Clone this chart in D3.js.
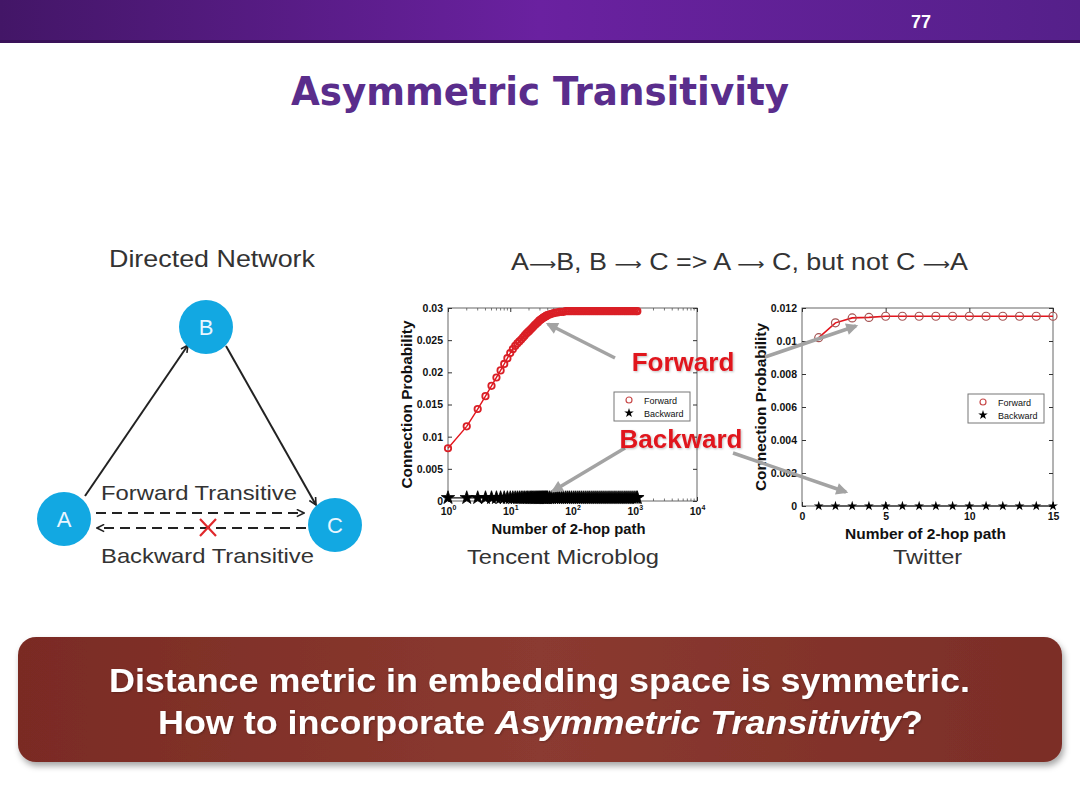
<!DOCTYPE html>
<html>
<head>
<meta charset="utf-8">
<style>
  body { margin: 0; background: #fff; }
  svg { display: block; }
</style>
</head>
<body>
<script src="https://cdn.jsdelivr.net/npm/d3@7"></script>
<script>
// ---- data ----
var tencentHops = [1, 2, 3, 4, 5, 6, 7, 8, 9, 10, 11, 12, 13, 14, 15, 16, 17, 18, 19, 20,
    21, 22, 23, 24, 25, 26, 27, 28, 29, 30, 31, 32, 33, 34, 35, 36, 37, 38, 39, 40,
    43, 46, 50, 54, 58, 62, 67, 72, 78, 84, 90, 97, 105, 113, 122, 131, 141, 152, 164, 177,
    190, 205, 221, 238, 256, 276, 297, 320, 345, 372, 400, 431, 465, 500, 540, 580, 625, 675, 725, 780,
    840, 905, 975, 1050, 1100];
var tencentForward = [0.0082, 0.0116, 0.0143, 0.0163, 0.0179, 0.0192, 0.0203, 0.0213, 0.0222, 0.0230,
    0.0236, 0.0241, 0.0245, 0.0248, 0.0251, 0.0254, 0.0257, 0.0260, 0.0262, 0.0264,
    0.0266, 0.0268, 0.0270, 0.0272, 0.0274, 0.0275, 0.0277, 0.0278, 0.0280, 0.0281,
    0.0282, 0.0283, 0.0284, 0.0285, 0.0286, 0.0286, 0.0287, 0.0288, 0.0288, 0.0289,
    0.0290, 0.0291, 0.0292, 0.0293, 0.0293, 0.0294, 0.0294, 0.0294, 0.0295, 0.0295,
    0.0295, 0.0295, 0.0295, 0.0295, 0.0295, 0.0295, 0.0295, 0.0295, 0.0295, 0.0295,
    0.0295, 0.0295, 0.0295, 0.0295, 0.0295, 0.0295, 0.0295, 0.0295, 0.0295, 0.0295,
    0.0295, 0.0295, 0.0295, 0.0295, 0.0295, 0.0295, 0.0295, 0.0295, 0.0295, 0.0295,
    0.0295, 0.0295, 0.0295, 0.0295, 0.0295];
var tencentBackward = [0.0005, 0.0005, 0.0005, 0.0005, 0.0005, 0.0005, 0.0005, 0.0005, 0.0005, 0.0005,
    0.0005, 0.0005, 0.0005, 0.0005, 0.0005, 0.0005, 0.0005, 0.0005, 0.0005, 0.0005,
    0.0005, 0.0005, 0.0005, 0.0005, 0.0005, 0.0005, 0.0005, 0.0005, 0.0005, 0.0005,
    0.0005, 0.0005, 0.0005, 0.0005, 0.0005, 0.0005, 0.0005, 0.0005, 0.0005, 0.0005,
    0.0005, 0.0005, 0.0005, 0.0005, 0.0005, 0.0005, 0.0005, 0.0005, 0.0005, 0.0005,
    0.0005, 0.0005, 0.0005, 0.0005, 0.0005, 0.0005, 0.0005, 0.0005, 0.0005, 0.0005,
    0.0005, 0.0005, 0.0005, 0.0005, 0.0005, 0.0005, 0.0005, 0.0005, 0.0005, 0.0005,
    0.0005, 0.0005, 0.0005, 0.0005, 0.0005, 0.0005, 0.0005, 0.0005, 0.0005, 0.0005,
    0.0005, 0.0005, 0.0005, 0.0005, 0.0005];
var tencentXTicks = [1, 10, 100, 1000, 10000];
var tencentYTicks = [0, 0.005, 0.01, 0.015, 0.02, 0.025, 0.03];

var twitterHops = [1, 2, 3, 4, 5, 6, 7, 8, 9, 10, 11, 12, 13, 14, 15];
var twitterForward = [0.0102, 0.0111, 0.0114, 0.01143, 0.0115, 0.0115, 0.0115, 0.0115,
    0.0115, 0.0115, 0.0115, 0.0115, 0.0115, 0.0115, 0.0115];
var twitterBackward = [0, 0, 0, 0, 0, 0, 0, 0, 0, 0, 0, 0, 0, 0, 0];
var twitterXTicks = [0, 5, 10, 15];
var twitterYTicks = [0, 0.002, 0.004, 0.006, 0.008, 0.01, 0.012];

var legendNames = ['Forward', 'Backward'];

var W = 1080, H = 810;
var tickFont = '"Liberation Sans", Arial, sans-serif';
var diagramFont = '"Liberation Sans", Arial, sans-serif';

var svg = d3.select('body').append('svg')
    .attr('width', W).attr('height', H);

var defs = svg.append('defs');

var topGrad = defs.append('linearGradient').attr('id', 'topGrad');
topGrad.append('stop').attr('offset', '0%').attr('stop-color', '#431667');
topGrad.append('stop').attr('offset', '50%').attr('stop-color', '#6a21a0');
topGrad.append('stop').attr('offset', '100%').attr('stop-color', '#55208a');

var banGrad = defs.append('linearGradient').attr('id', 'banGrad');
banGrad.append('stop').attr('offset', '0%').attr('stop-color', '#7a2b24');
banGrad.append('stop').attr('offset', '50%').attr('stop-color', '#8b3a30');
banGrad.append('stop').attr('offset', '100%').attr('stop-color', '#7b2d27');

var shadow = defs.append('filter').attr('id', 'shadow')
    .attr('x', '-5%').attr('y', '-10%').attr('width', '110%').attr('height', '130%');
shadow.append('feDropShadow').attr('dx', 2).attr('dy', 4).attr('stdDeviation', 3)
    .attr('flood-color', '#000').attr('flood-opacity', 0.35);

var txtShadow = defs.append('filter').attr('id', 'txtShadow');
txtShadow.append('feDropShadow').attr('dx', 1).attr('dy', 1).attr('stdDeviation', 1)
    .attr('flood-color', '#000').attr('flood-opacity', 0.25);

// arrow heads
defs.append('marker').attr('id', 'vhead')
    .attr('viewBox', '0 0 10 10').attr('refX', 9).attr('refY', 5)
    .attr('markerWidth', 9).attr('markerHeight', 9).attr('orient', 'auto')
    .attr('markerUnits', 'userSpaceOnUse')
    .append('path').attr('d', 'M1,1 L9,5 L1,9').attr('fill', 'none')
    .attr('stroke', '#222').attr('stroke-width', 1.8);

defs.append('marker').attr('id', 'greyhead')
    .attr('viewBox', '0 0 10 10').attr('refX', 8).attr('refY', 5)
    .attr('markerWidth', 14).attr('markerHeight', 12).attr('orient', 'auto')
    .attr('markerUnits', 'userSpaceOnUse')
    .append('path').attr('d', 'M0,0 L10,5 L0,10 Z').attr('fill', '#a3a3a3');

// plain slide text, stretched to the width it has on the slide
function slideText(parent, cx, y, size, width, str) {
    return parent.append('text').attr('x', cx).attr('y', y).attr('text-anchor', 'middle')
        .attr('font-family', diagramFont).attr('font-size', size).attr('fill', '#333')
        .attr('textLength', width).attr('lengthAdjust', 'spacingAndGlyphs')
        .text(str);
}

// ---- slide frame ----
svg.append('rect').attr('x', 0).attr('y', 0).attr('width', W).attr('height', 42)
    .attr('fill', 'url(#topGrad)');
svg.append('rect').attr('x', 0).attr('y', 40).attr('width', W).attr('height', 3)
    .attr('fill', '#3a1259');
svg.append('text').attr('x', 921).attr('y', 28).attr('text-anchor', 'middle')
    .attr('font-family', tickFont).attr('font-weight', 'bold').attr('font-size', 18)
    .attr('fill', '#fff').text('77');

svg.append('text').attr('x', 540).attr('y', 105).attr('text-anchor', 'middle')
    .attr('font-family', '"DejaVu Sans", Verdana, sans-serif').attr('font-weight', 'bold')
    .attr('font-size', 39).attr('fill', '#5a2d8c')
    .attr('textLength', 498).attr('lengthAdjust', 'spacingAndGlyphs')
    .text('Asymmetric Transitivity');

// ---- directed network diagram ----
slideText(svg, 212, 267, 24, 206, 'Directed Network');

var g = svg.append('g');
g.append('line').attr('x1', 85).attr('y1', 496).attr('x2', 188).attr('y2', 345)
    .attr('stroke', '#222').attr('stroke-width', 2).attr('marker-end', 'url(#vhead)');
g.append('line').attr('x1', 226).attr('y1', 346).attr('x2', 316).attr('y2', 505)
    .attr('stroke', '#222').attr('stroke-width', 2).attr('marker-end', 'url(#vhead)');
g.append('line').attr('x1', 96).attr('y1', 513).attr('x2', 304).attr('y2', 513)
    .attr('stroke', '#222').attr('stroke-width', 2).attr('stroke-dasharray', '10,6')
    .attr('marker-end', 'url(#vhead)');
g.append('line').attr('x1', 306).attr('y1', 528).attr('x2', 97).attr('y2', 528)
    .attr('stroke', '#222').attr('stroke-width', 2).attr('stroke-dasharray', '10,6')
    .attr('marker-end', 'url(#vhead)');
g.append('path').attr('d', 'M200,519 L216,536 M216,519 L200,536')
    .attr('stroke', '#e0282c').attr('stroke-width', 2.2).attr('fill', 'none');

var nodes = [['A', 64, 519], ['B', 206, 327], ['C', 335, 525]];
nodes.forEach(function (n) {
    g.append('circle').attr('cx', n[1]).attr('cy', n[2]).attr('r', 27).attr('fill', '#12a8e2');
    g.append('text').attr('x', n[1]).attr('y', n[2] + 8).attr('text-anchor', 'middle')
        .attr('font-family', diagramFont).attr('font-size', 22).attr('fill', '#e8f6ff')
        .text(n[0]);
});
slideText(g, 199, 500, 21, 196, 'Forward Transitive');
slideText(g, 207.5, 563, 21, 213, 'Backward Transitive');

// header with wide symbol-style arrows
var hdr = svg.append('text').attr('x', 739.5).attr('y', 270).attr('text-anchor', 'middle')
    .attr('font-family', diagramFont).attr('font-size', 24).attr('fill', '#333')
    .attr('textLength', 457).attr('lengthAdjust', 'spacingAndGlyphs');
['A', '\u27F6', 'B, B ', '\u27F6', ' C => A ', '\u27F6', ' C, but not C ', '\u27F6', 'A']
    .forEach(function (s) {
        var t = hdr.append('tspan').text(s);
        if (s === '\u27F6') t.attr('font-family', '"DejaVu Sans", sans-serif').attr('font-size', 17);
    });

// ---- charts ----
function drawChart(o) {
    var cg = svg.append('g');
    var x = o.x, y = o.y;
    var x0 = x.range()[0], x1 = x.range()[1], y0 = y.range()[0], y1 = y.range()[1];

    cg.append('rect').attr('x', x0).attr('y', y1).attr('width', x1 - x0).attr('height', y0 - y1)
        .attr('fill', '#fff').attr('stroke', '#666').attr('stroke-width', 1);

    var xb = d3.axisBottom(x).tickValues(o.xTicks).tickSizeInner(-4).tickSizeOuter(0)
        .tickPadding(7).tickFormat(o.xFormat || null);
    var xt = d3.axisTop(x).tickValues(o.xTicks).tickSizeInner(-4).tickSizeOuter(0).tickFormat('');
    var yl = d3.axisLeft(y).tickValues(o.yTicks).tickSizeInner(-4).tickSizeOuter(0)
        .tickPadding(5).tickFormat(function (d) { return String(d); });
    var yr = d3.axisRight(y).tickValues(o.yTicks).tickSizeInner(-4).tickSizeOuter(0).tickFormat('');

    var axes = [
        cg.append('g').attr('transform', 'translate(0,' + y0 + ')').call(xb),
        cg.append('g').attr('transform', 'translate(0,' + y1 + ')').call(xt),
        cg.append('g').attr('transform', 'translate(' + x0 + ',0)').call(yl),
        cg.append('g').attr('transform', 'translate(' + x1 + ',0)').call(yr)
    ];
    axes.forEach(function (a) {
        a.select('.domain').remove();
        a.selectAll('.tick line').attr('stroke', '#333');
        a.selectAll('text').attr('font-family', tickFont).attr('font-weight', 'bold')
            .attr('font-size', 10.5).attr('fill', '#111');
    });
    if (o.minor) {
        [y0, y1].forEach(function (yy, i) {
            cg.selectAll(null).data(o.minor).enter().append('line')
                .attr('x1', function (d) { return x(d); }).attr('x2', function (d) { return x(d); })
                .attr('y1', yy).attr('y2', i === 0 ? yy - 2.5 : yy + 2.5)
                .attr('stroke', '#555').attr('stroke-width', 0.8);
        });
    }
    if (o.sup) axes[0].selectAll('.tick text').each(function (d) {
        var t = d3.select(this).text('');
        t.append('tspan').text('10');
        t.append('tspan').attr('dy', -5).attr('font-size', 7).text(String(Math.round(Math.log10(d))));
    });

    // series
    var fwd = o.hops.map(function (h, i) { return [h, o.fwd[i]]; });
    var bwd = o.hops.map(function (h, i) { return [h, o.bwd[i]]; });
    var line = d3.line().x(function (d) { return x(d[0]); }).y(function (d) { return y(d[1]); });

    cg.append('path').datum(bwd).attr('d', line).attr('fill', 'none')
        .attr('stroke', '#111').attr('stroke-width', 1.2);
    cg.selectAll(null).data(bwd).enter().append('path')
        .attr('transform', function (d) { return 'translate(' + x(d[0]) + ',' + y(d[1]) + ')'; })
        .attr('d', d3.symbol().type(d3.symbolStar).size(o.starSize))
        .attr('fill', '#000').attr('stroke', '#000').attr('stroke-width', o.starW || 0);

    cg.append('path').datum(fwd).attr('d', line).attr('fill', 'none')
        .attr('stroke', '#e3141c').attr('stroke-width', o.lineW);
    cg.selectAll(null).data(fwd).enter().append('circle')
        .attr('cx', function (d) { return x(d[0]); }).attr('cy', function (d) { return y(d[1]); })
        .attr('r', o.r).attr('fill', 'none').attr('stroke', o.markerStroke)
        .attr('stroke-width', o.markerW);

    // labels
    cg.append('text').attr('transform', 'translate(' + o.ylabX + ',' + ((y0 + y1) / 2) + ') rotate(-90)')
        .attr('text-anchor', 'middle').attr('font-family', tickFont).attr('font-weight', 'bold')
        .attr('font-size', 15).attr('fill', '#111')
        .attr('textLength', 168).attr('lengthAdjust', 'spacingAndGlyphs')
        .text('Connection Probability');
    cg.append('text').attr('x', (x0 + x1) / 2 + o.xlabDx).attr('y', y0 + 33).attr('text-anchor', 'middle')
        .attr('font-family', tickFont).attr('font-weight', 'bold')
        .attr('font-size', 15).attr('fill', '#111')
        .attr('textLength', o.xlabW).attr('lengthAdjust', 'spacingAndGlyphs')
        .text('Number of 2-hop path');
    slideText(cg, o.cap[0], 564, 21, o.cap[1], o.caption);

    // legend
    var lg = cg.append('g').attr('transform', 'translate(' + o.leg[0] + ',' + o.leg[1] + ')');
    lg.append('rect').attr('width', 76).attr('height', 29).attr('fill', '#fff')
        .attr('stroke', '#777').attr('stroke-width', 1);
    legendNames.forEach(function (nm, i) {
        var yy = 8 + i * 13;
        if (i === 0) {
            lg.append('circle').attr('cx', 15).attr('cy', yy).attr('r', 3)
                .attr('fill', 'none').attr('stroke', '#c84a4a').attr('stroke-width', 1.2);
        } else {
            lg.append('path').attr('transform', 'translate(15,' + yy + ')')
                .attr('d', d3.symbol().type(d3.symbolStar).size(28)).attr('fill', '#000');
        }
        lg.append('text').attr('x', 30).attr('y', yy + 3.5).attr('font-family', tickFont)
            .attr('font-size', 9).attr('fill', '#111').text(nm);
    });
}

var minorLog = [];
[1, 10, 100, 1000].forEach(function (p) {
    [2, 3, 4, 5, 6, 7, 8, 9].forEach(function (m) { minorLog.push(p * m); });
});

drawChart({
    x: d3.scaleLog().domain([1, 10000]).range([448, 697]),
    y: d3.scaleLinear().domain([0, 0.03]).range([501, 308]),
    xTicks: tencentXTicks, yTicks: tencentYTicks, sup: true, minor: minorLog,
    hops: tencentHops, fwd: tencentForward, bwd: tencentBackward,
    r: 3.2, markerW: 1.8, lineW: 1.4, starSize: 56, starW: 0.8, markerStroke: '#da1f26',
    ylabX: 412, xlabDx: -4, xlabW: 154,
    caption: 'Tencent Microblog', cap: [563, 192], leg: [614, 392]
});

drawChart({
    x: d3.scaleLinear().domain([0, 15]).range([802, 1053]),
    y: d3.scaleLinear().domain([0, 0.012]).range([506, 308]),
    xTicks: twitterXTicks, yTicks: twitterYTicks,
    hops: twitterHops, fwd: twitterForward, bwd: twitterBackward,
    r: 4, markerW: 1.2, lineW: 1.6, starSize: 30, markerStroke: '#a55252',
    ylabX: 766, xlabDx: -2, xlabW: 161,
    caption: 'Twitter', cap: [927.5, 69], leg: [968, 394]
});

// grey call-out arrows
var callouts = [[615, 358, 548, 324], [765, 357, 856, 326], [625, 448, 553, 491], [733, 453, 846, 492]];
callouts.forEach(function (c) {
    svg.append('line').attr('x1', c[0]).attr('y1', c[1]).attr('x2', c[2]).attr('y2', c[3])
        .attr('stroke', '#a3a3a3').attr('stroke-width', 3.5).attr('marker-end', 'url(#greyhead)');
});

svg.append('text').attr('x', 683).attr('y', 371).attr('text-anchor', 'middle')
    .attr('font-family', tickFont).attr('font-weight', 'bold').attr('font-size', 26)
    .attr('fill', '#e0141e').attr('filter', 'url(#txtShadow)').text('Forward');
svg.append('text').attr('x', 681).attr('y', 448).attr('text-anchor', 'middle')
    .attr('font-family', tickFont).attr('font-weight', 'bold').attr('font-size', 26)
    .attr('fill', '#e0141e').attr('filter', 'url(#txtShadow)').text('Backward');

// ---- bottom banner ----
svg.append('rect').attr('x', 18).attr('y', 637).attr('width', 1044).attr('height', 125)
    .attr('rx', 18).attr('fill', 'url(#banGrad)').attr('filter', 'url(#shadow)');
svg.append('text').attr('x', 539.5).attr('y', 692).attr('text-anchor', 'middle')
    .attr('font-family', tickFont).attr('font-weight', 'bold').attr('font-size', 33)
    .attr('fill', '#fff').attr('filter', 'url(#txtShadow)')
    .attr('textLength', 861).attr('lengthAdjust', 'spacingAndGlyphs')
    .text('Distance metric in embedding space is symmetric.');
var l2 = svg.append('text').attr('x', 540.5).attr('y', 734).attr('text-anchor', 'middle')
    .attr('font-family', tickFont).attr('font-weight', 'bold').attr('font-size', 33)
    .attr('fill', '#fff').attr('filter', 'url(#txtShadow)')
    .attr('textLength', 765).attr('lengthAdjust', 'spacingAndGlyphs');
l2.append('tspan').text('How to incorporate ');
l2.append('tspan').attr('font-style', 'italic').text('Asymmetric Transitivity');
l2.append('tspan').text('?');
</script>
</body>
</html>
